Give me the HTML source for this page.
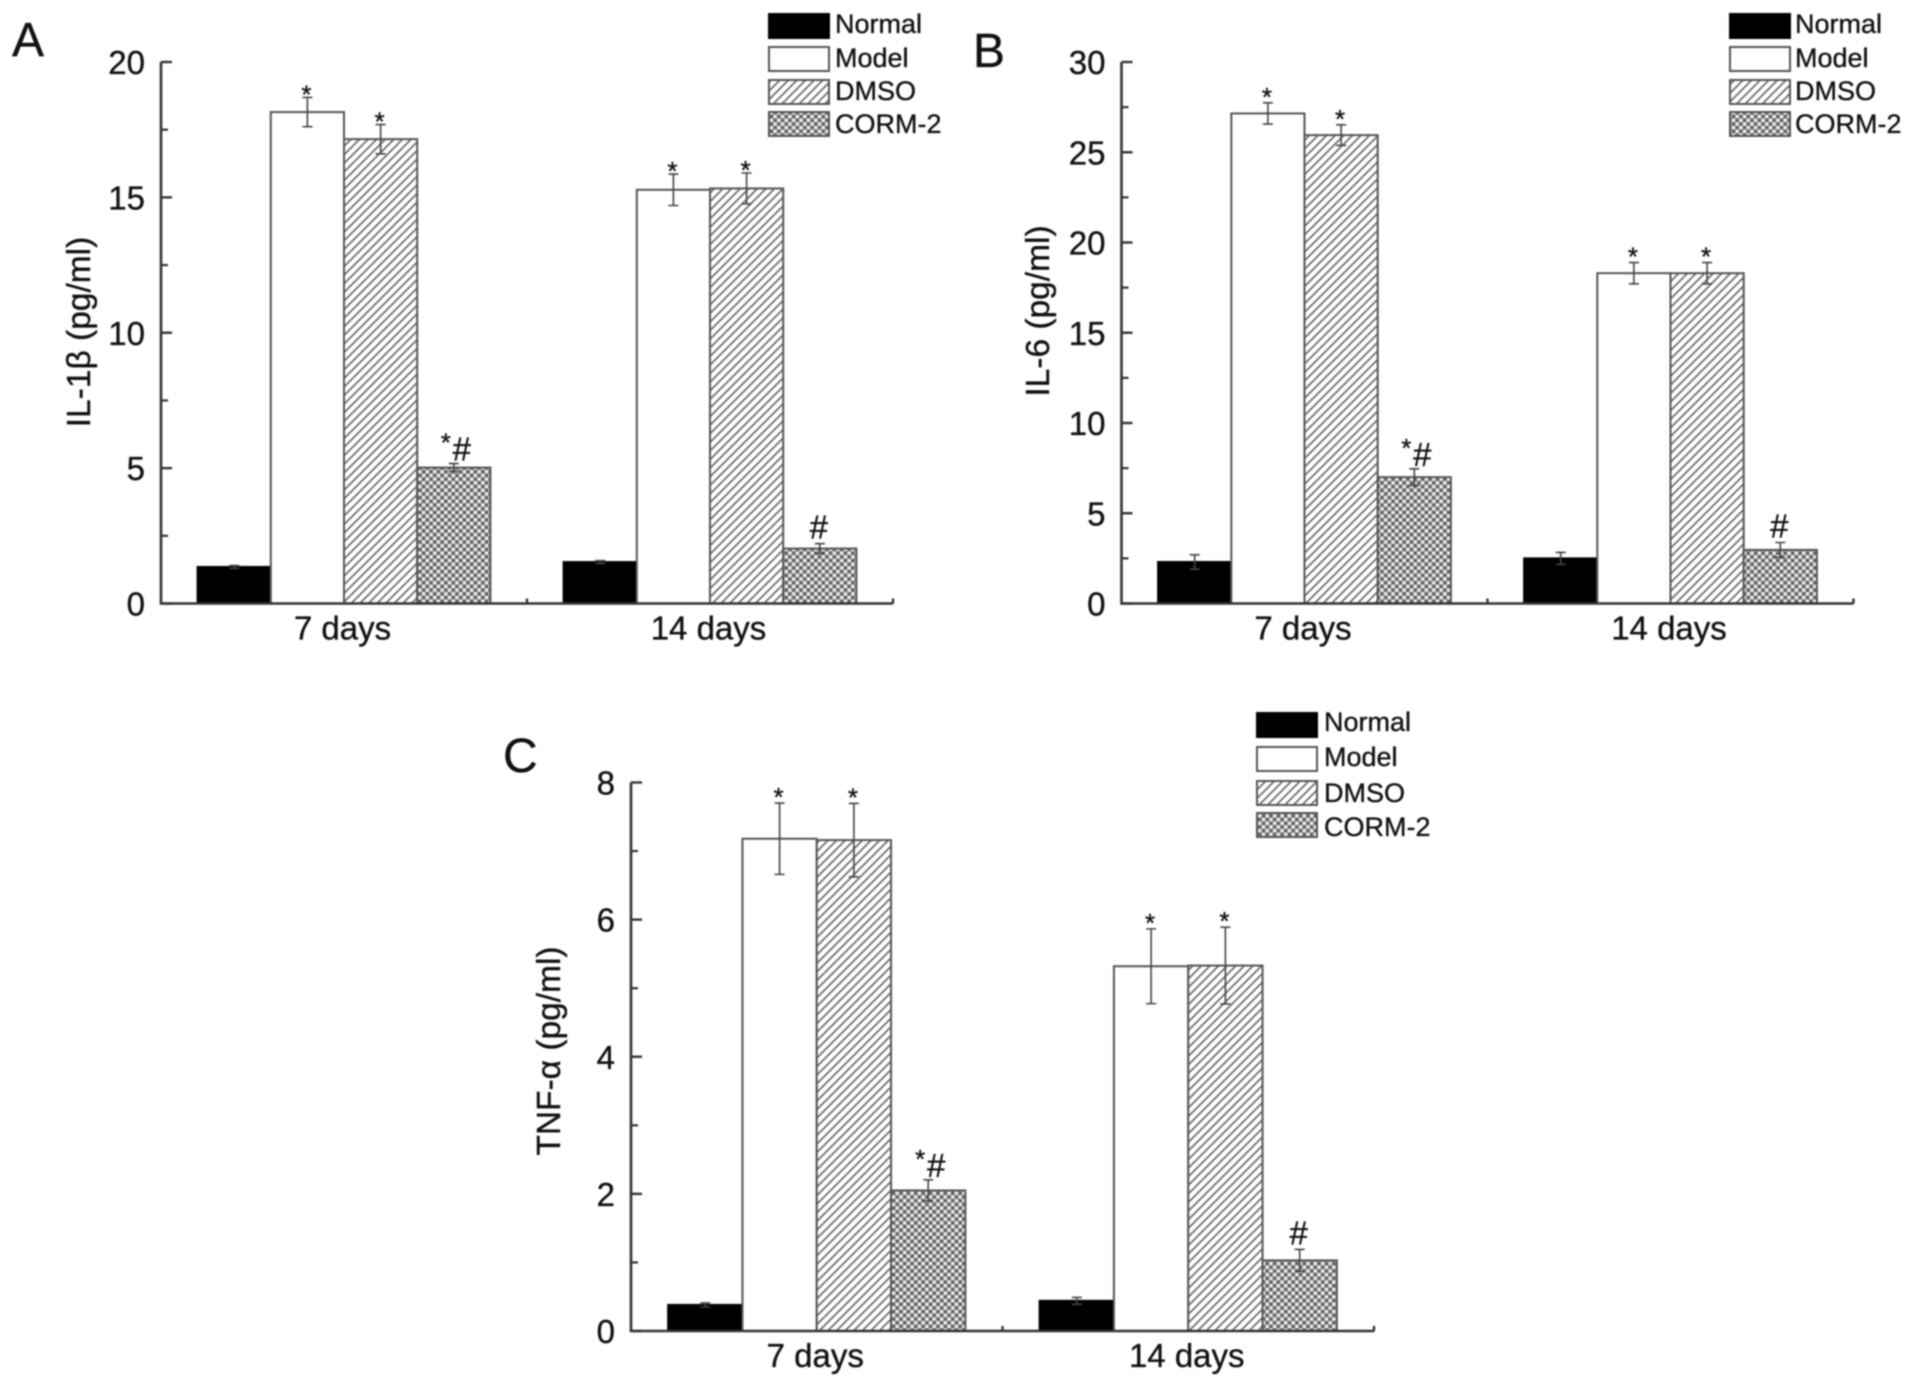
<!DOCTYPE html>
<html>
<head>
<meta charset="utf-8">
<title>Cytokine levels chart</title>
<style>
  html, body { margin: 0; padding: 0; background: #fff; }
  #figure { display: block; filter: blur(0.7px); }
  text { font-family: "Liberation Sans", sans-serif; fill: #111; stroke: #111; stroke-width: 0.35px; }
</style>
</head>
<body>
<svg id="figure" xmlns="http://www.w3.org/2000/svg" width="1913" height="1388" viewBox="0 0 1913 1388">
  <defs>
    <pattern id="hatch" patternUnits="userSpaceOnUse" width="8.6" height="8.6">
      <rect width="8.6" height="8.6" fill="#fff"/>
      <path d="M-1,1 L1,-1 M0,8.6 L8.6,0 M7.6,9.6 L9.6,7.6" stroke="#5a5a5a" stroke-width="1.5" fill="none"/>
    </pattern>
    <pattern id="cross" patternUnits="userSpaceOnUse" width="7.4" height="7.4">
      <rect width="7.4" height="7.4" fill="#969696"/>
      <circle cx="1.85" cy="1.85" r="1.75" fill="#f2f2f2"/>
      <circle cx="5.55" cy="5.55" r="1.75" fill="#f2f2f2"/>
      <circle cx="5.55" cy="1.85" r="1.6" fill="#5c5c5c"/>
      <circle cx="1.85" cy="5.55" r="1.6" fill="#5c5c5c"/>
    </pattern>
  </defs>
</svg>
<script>
// ---- chart data ----
const categories = ["7 days", "14 days"];
const seriesNames = ["Normal", "Model", "DMSO", "CORM-2"];

const ticksA = ["0", "5", "10", "15", "20"];
const normalA = [1.35, 1.53];
const modelA = [18.15, 15.28];
const dmsoA = [17.15, 15.33];
const cormA = [5.02, 2.03];
const normalErrA = [0.05, 0.05];
const modelErrA = [0.54, 0.58];
const dmsoErrA = [0.54, 0.57];
const cormErrA = [0.15, 0.18];

const ticksB = ["0", "5", "10", "15", "20", "25", "30"];
const normalB = [2.3, 2.5];
const modelB = [27.15, 18.3];
const dmsoB = [25.95, 18.3];
const cormB = [7.0, 2.97];
const normalErrB = [0.4, 0.33];
const modelErrB = [0.59, 0.59];
const dmsoErrB = [0.57, 0.59];
const cormErrB = [0.46, 0.41];

const ticksC = ["0", "2", "4", "6", "8"];
const normalC = [0.38, 0.44];
const modelC = [7.18, 5.32];
const dmsoC = [7.16, 5.33];
const cormC = [2.05, 1.03];
const normalErrC = [0.03, 0.05];
const modelErrC = [0.52, 0.545];
const dmsoErrC = [0.535, 0.56];
const cormErrC = [0.155, 0.16];

// significance marks per series, per category
const normalMarks = ["", ""];
const modelMarks = ["*", "*"];
const dmsoMarks = ["*", "*"];
const cormMarks = ["*#", "#"];

// ---- layout ----
const panels = [
  { id: "a", letter: "A", letterX: 12, letterY: 56, left: 161, right: 893, y0: 603.5, yTop: 62,
    ticks: ticksA, values: [normalA, modelA, dmsoA, cormA], errors: [normalErrA, modelErrA, dmsoErrA, cormErrA],
    starGap: 9, titleX: 90, titleY: 332, title: "IL-1β (pg/ml)",
    legendX: 769, legendTextX: 835, legendTop: [14, 47, 80, 112], legendBase: [33, 67, 100, 133] },
  { id: "b", letter: "B", letterX: 973, letterY: 67, left: 1121.5, right: 1853.5, y0: 603.5, yTop: 62,
    ticks: ticksB, values: [normalB, modelB, dmsoB, cormB], errors: [normalErrB, modelErrB, dmsoErrB, cormErrB],
    starGap: 12, titleX: 1049, titleY: 311, title: "IL-6 (pg/ml)",
    legendX: 1730, legendTextX: 1795, legendTop: [14, 47, 80, 112], legendBase: [33, 67, 100, 133] },
  { id: "c", letter: "C", letterX: 503, letterY: 772, left: 631, right: 1374, y0: 1331, yTop: 782.5,
    ticks: ticksC, values: [normalC, modelC, dmsoC, cormC], errors: [normalErrC, modelErrC, dmsoErrC, cormErrC],
    starGap: 12, titleX: 560, titleY: 1051, title: "TNF-α (pg/ml)",
    legendX: 1257, legendTextX: 1324, legendTop: [713, 747, 781, 813], legendBase: [731, 766, 802, 836] }
];
const marks = [normalMarks, modelMarks, dmsoMarks, cormMarks];
const fills = ["#000", "#fff", "url(#hatch)", "url(#cross)"];
const strokes = ["#000", "#555", "#555", "#555"];
const seriesSlugs = ["normal", "model", "dmso", "corm-2"];

const svg = document.getElementById("figure");
const NS = "http://www.w3.org/2000/svg";

function make(tag, attrs, text) {
  const n = document.createElementNS(NS, tag);
  for (const k in attrs) n.setAttribute(k, attrs[k]);
  if (text !== undefined) n.textContent = text;
  svg.appendChild(n);
  return n;
}

function drawPanel(p) {
  const yMax = Number(p.ticks[p.ticks.length - 1]);
  const yScale = v => p.y0 - (v / yMax) * (p.y0 - p.yTop);
  const catW = (p.right - p.left) / categories.length;
  const barW = catW * 0.2;
  const barX = (c, s) => p.left + catW * (c + 0.1) + barW * s;

  // bars
  p.values.forEach((vals, s) => {
    vals.forEach((v, c) => {
      const bar = make("rect", { x: barX(c, s), y: yScale(v), width: barW, height: p.y0 - yScale(v), fill: fills[s], stroke: strokes[s], "stroke-width": 2 });
      
      
    });
  });

  // error bars and significance marks
  p.values.forEach((vals, s) => {
    vals.forEach((v, c) => {
      const cx = barX(c, s) + barW / 2;
      const err = p.errors[s][c];
      const t = yScale(v + err), b = yScale(v - err);
      const eb = make("path", { d: "M" + (cx - 5) + "," + t + "H" + (cx + 5) + "M" + cx + "," + t + "V" + b + "M" + (cx - 5) + "," + b + "H" + (cx + 5), stroke: "#444", "stroke-width": 1.6, fill: "none" });
      
      
      const m = marks[s][c];
      if (m === "*") {
        const st = make("text", { x: cx - 1, y: t - p.starGap + 15, "text-anchor": "middle", "font-size": 26 }, "*");
        
        
      } else if (m === "#") {
        const h = make("text", { x: cx - 1, y: t - 5, "text-anchor": "middle", "font-size": 33 }, "#");
        
        
      } else if (m === "*#") {
        const st2 = make("text", { x: cx - 8, y: t - 12, "text-anchor": "middle", "font-size": 26 }, "*");
        
        
        const h2 = make("text", { x: cx + 8, y: t - 3, "text-anchor": "middle", "font-size": 33 }, "#");
        
        
      }
    });
  });

  // axes
  const axis = make("path", { d: "M" + p.left + "," + p.yTop + "V" + p.y0 + "H" + p.right, stroke: "#333", "stroke-width": 2.6, fill: "none" });
  
  

  // y ticks and labels
  p.ticks.forEach((label, i) => {
    const v = Number(label);
    const y = yScale(v);
    const tick = make("path", { d: "M" + p.left + "," + y + "H" + (p.left + 11), stroke: "#333", "stroke-width": 2.4 });
    
    
    if (i < p.ticks.length - 1) {
      const my = yScale((v + Number(p.ticks[i + 1])) / 2);
      const minor = make("path", { d: "M" + p.left + "," + my + "H" + (p.left + 7), stroke: "#333", "stroke-width": 2.2 });
      
      
    }
    const tl = make("text", { x: p.left - 16, y: y + 12, "text-anchor": "end", "font-size": 33 }, label);
    
    
  });

  // x ticks and labels
  categories.forEach((name, c) => {
    const lab = make("text", { x: p.left + catW * (c + 0.5) - 1.5, y: p.y0 + 36, "text-anchor": "middle", "font-size": 33 }, name);
    
    
    const xt = make("path", { d: "M" + (p.left + catW * (c + 1)) + "," + p.y0 + "v-5", stroke: "#333", "stroke-width": 2.4 });
    
    
  });

  // axis title
  const title = make("text", { x: p.titleX, y: p.titleY, "text-anchor": "middle", "font-size": 33.5, transform: "rotate(-90 " + p.titleX + " " + p.titleY + ")" }, p.title);
  
  

  // panel letter
  const letter = make("text", { x: p.letterX, y: p.letterY, "font-size": 48 }, p.letter);
  
  

  // legend
  seriesNames.forEach((name, s) => {
    const sw = make("rect", { x: p.legendX, y: p.legendTop[s], width: 60, height: 24, fill: fills[s], stroke: strokes[s], "stroke-width": 2 });
    
    
    const lt = make("text", { x: p.legendTextX, y: p.legendBase[s], "font-size": 27 }, name);
    
    
  });
}

panels.forEach(drawPanel);
</script>
</body>
</html>
